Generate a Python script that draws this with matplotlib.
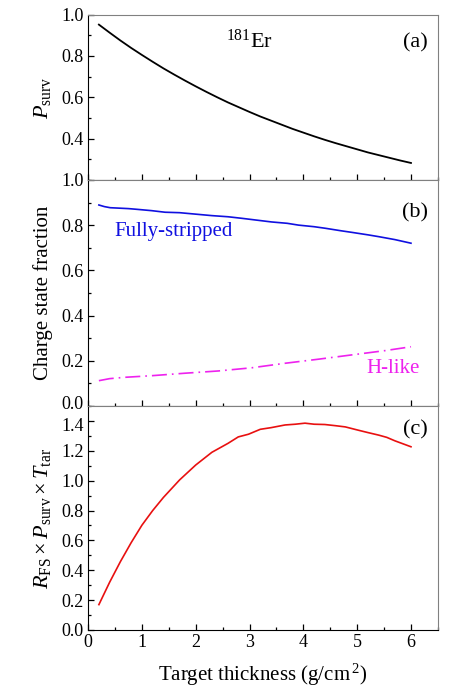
import numpy as np
import matplotlib
matplotlib.use('Agg')
import matplotlib.pyplot as plt
import matplotlib.transforms as mtransforms
from matplotlib.ticker import MultipleLocator

plt.rcParams['font.family'] = ['Liberation Serif', 'DejaVu Serif']
plt.rcParams['mathtext.fontset'] = 'custom'
plt.rcParams['mathtext.rm'] = 'Liberation Serif'
plt.rcParams['mathtext.it'] = 'Liberation Serif:italic'

# (a) survival probability
x_a = [0.2, 0.4, 0.6, 0.8, 1.0, 1.2, 1.4, 1.6, 1.8, 2.0, 2.2, 2.4, 2.6, 2.8, 3.0,
       3.2, 3.4, 3.6, 3.8, 4.0, 4.2, 4.4, 4.6, 4.8, 5.0, 5.2, 5.4, 5.6, 5.8, 6.0]
p_surv = [0.952, 0.913, 0.875, 0.839, 0.805, 0.772, 0.740, 0.710, 0.681, 0.653,
          0.626, 0.600, 0.575, 0.552, 0.529, 0.507, 0.487, 0.467, 0.447, 0.429,
          0.411, 0.394, 0.378, 0.363, 0.348, 0.333, 0.320, 0.307, 0.294, 0.282]

# (b) charge state fractions
x_fs = [0.2, 0.3, 0.41, 0.75, 0.9, 1.18, 1.43, 1.7, 1.93, 2.3, 2.6, 2.86, 3.1,
        3.41, 3.7, 3.91, 4.2, 4.41, 4.7, 4.9, 5.2, 5.4, 5.7, 6.0]
frac_fs = [0.889, 0.882, 0.877, 0.873, 0.870, 0.864, 0.857, 0.855, 0.850, 0.842,
           0.837, 0.830, 0.823, 0.814, 0.808, 0.800, 0.793, 0.786, 0.775, 0.768,
           0.757, 0.749, 0.736, 0.720]
x_h = [0.2, 0.4, 0.69, 1.18, 1.8, 2.42, 3.04, 3.66, 4.28, 4.9, 5.52, 6.0]
frac_h = [0.112, 0.121, 0.127, 0.134, 0.145, 0.155, 0.169, 0.189, 0.207, 0.226,
          0.245, 0.262]

# (c) R_FS x P_surv x T_tar
x_c = [0.2, 0.4, 0.6, 0.8, 1.0, 1.2, 1.4, 1.7, 2.0, 2.3, 2.6, 2.79, 2.98, 3.2,
       3.4, 3.66, 3.85, 4.03, 4.2, 4.4, 4.6, 4.78, 5.02, 5.2, 5.4, 5.55, 5.7, 6.0]
y_c = [0.17, 0.32, 0.458, 0.585, 0.702, 0.80, 0.888, 1.005, 1.105, 1.19, 1.25, 1.293,
       1.311, 1.344, 1.355, 1.373, 1.378, 1.385, 1.378, 1.376, 1.368, 1.36, 1.338,
       1.322, 1.305, 1.29, 1.267, 1.227]

fig = plt.figure(figsize=(4.59, 7.0), dpi=100)
ax_a = fig.add_axes([0.192, 0.743, 0.762, 0.236])
ax_b = fig.add_axes([0.192, 0.420, 0.762, 0.323])
ax_c = fig.add_axes([0.192, 0.100, 0.762, 0.320])

for ax in (ax_a, ax_b, ax_c):
    ax.set_xlim(0, 6.5)
    ax.xaxis.set_major_locator(MultipleLocator(1))
    ax.xaxis.set_minor_locator(MultipleLocator(0.5))
    ax.yaxis.set_minor_locator(MultipleLocator(0.1))
    ax.tick_params(which='both', direction='in', top=False, right=False,
                   labelsize=13, width=0.9, pad=3)
    ax.tick_params(which='major', length=4)
    ax.tick_params(which='minor', length=2.5)
    for s in ('top', 'right'):
        ax.spines[s].set_color('#808080')
    for s in ('left', 'bottom'):
        ax.spines[s].set_color('black')

ax_a.plot(x_a, p_surv, color='black', lw=1.3)
ax_a.set_ylim(0.2, 1.0)
ax_a.set_yticks([0.4, 0.6, 0.8, 1.0])
ax_a.set_yticklabels(['0.4', '0.6', '0.8', '1.0'])
ax_a.tick_params(labelbottom=False)
ax_a.set_ylabel(r'$P_{\rm surv}$', fontsize=16)
ax_a.text(3.0, 0.84, r'$^{181}$Er', fontsize=16, ha='center', va='center',
          transform=ax_a.get_xaxis_transform())
ax_a.text(0.935, 0.83, '(a)', fontsize=16, ha='center', va='center',
          transform=ax_a.transAxes)

ax_b.plot(x_fs, frac_fs, color='#1010e0', lw=1.2)
ax_b.plot(x_h, frac_h, color='#ee22ee', lw=1.2, linestyle=(0, (9, 3, 1, 3)))
ax_b.set_ylim(0, 1.0)
ax_b.set_yticks([0.0, 0.2, 0.4, 0.6, 0.8, 1.0])
ax_b.set_yticklabels(['0.0', '0.2', '0.4', '0.6', '0.8', '1.0'])
ax_b.tick_params(labelbottom=False)
ax_b.set_ylabel('Charge state fraction', fontsize=15)
ax_b.text(0.48, 0.77, 'Fully-stripped', color='#1010e0', fontsize=15,
          ha='left', va='center')
ax_b.text(6.17, 0.164, 'H-like', color='#ee22ee', fontsize=15,
          ha='right', va='center')
ax_b.text(0.935, 0.854, '(b)', fontsize=16, ha='center', va='center',
          transform=ax_b.transAxes)

ax_c.plot(x_c, y_c, color='#e81010', lw=1.2)
ax_c.set_ylim(0, 1.5)
ax_c.set_yticks([0.0, 0.2, 0.4, 0.6, 0.8, 1.0, 1.2, 1.4])
ax_c.set_yticklabels(['0.0', '0.2', '0.4', '0.6', '0.8', '1.0', '1.2', '1.4'])
ax_c.set_xticks([0, 1, 2, 3, 4, 5, 6])
ax_c.set_ylabel(r'$R_{\rm FS}\times P_{\rm surv}\times T_{\rm tar}$', fontsize=16)
ax_c.set_xlabel(r'Target thickness (g/cm$^{\,2}$)', fontsize=15, labelpad=8)
ax_c.text(0.935, 0.893, '(c)', fontsize=16, ha='center', va='center',
          transform=ax_c.transAxes)

for ax in (ax_a, ax_b, ax_c):
    ax.yaxis.set_label_coords(-0.10, 0.5)

# nudge the crowded labels at the b/c boundary apart a little
up = mtransforms.ScaledTranslation(0, 2.5 / 72, fig.dpi_scale_trans)
down = mtransforms.ScaledTranslation(0, -2.5 / 72, fig.dpi_scale_trans)
lab = ax_b.get_yticklabels()[0]
lab.set_transform(lab.get_transform() + up)
lab = ax_c.get_yticklabels()[-1]
lab.set_transform(lab.get_transform() + down)

fig.savefig('out.png', dpi=100)
